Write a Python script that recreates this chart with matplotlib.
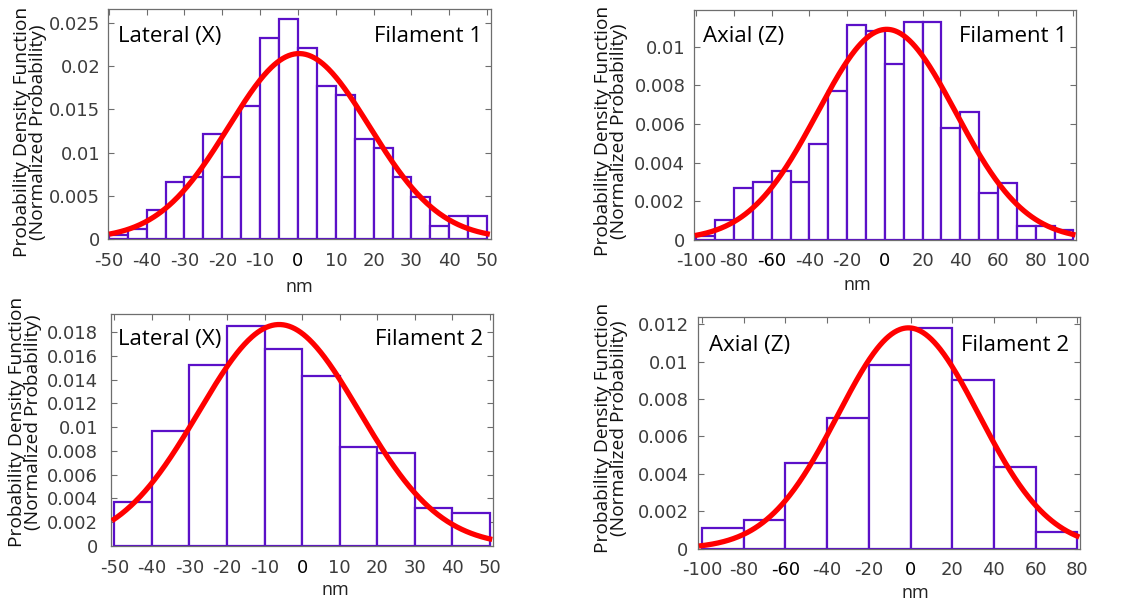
import numpy as np
import matplotlib
matplotlib.use("Agg")
import matplotlib.pyplot as plt

# ---------------- data ----------------
# Panel 1: Lateral (X), Filament 1 (bin width 5 nm)
lat1_edges = [-50, -45, -40, -35, -30, -25, -20, -15, -10, -5, 0, 5, 10, 15, 20, 25, 30, 35, 40, 45, 50]
lat1_pdf = [0.0005, 0.0011, 0.0033, 0.0066, 0.0072, 0.0122, 0.0072, 0.0154, 0.0232, 0.0255,
            0.0221, 0.0177, 0.0166, 0.0116, 0.0105, 0.0072, 0.0049, 0.0015, 0.0027, 0.0027]
lat1_mu, lat1_sigma = 0.3, 18.6

# Panel 2: Axial (Z), Filament 1 (bin width 10 nm)
ax1_edges = [-100, -90, -80, -70, -60, -50, -40, -30, -20, -10, 0, 10, 20, 30, 40, 50, 60, 70, 80, 90, 100]
ax1_pdf = [0.0002, 0.00103, 0.0027, 0.0030, 0.00355, 0.0030, 0.00495, 0.0077, 0.0111, 0.0108,
           0.0091, 0.0113, 0.0113, 0.0058, 0.0066, 0.00245, 0.00295, 0.00074, 0.00074, 0.0005]
ax1_mu, ax1_sigma = 1.0, 36.6

# Panel 3: Lateral (X), Filament 2 (bin width 10 nm)
lat2_edges = [-50, -40, -30, -20, -10, 0, 10, 20, 30, 40, 50]
lat2_pdf = [0.00373, 0.0097, 0.0152, 0.0185, 0.0166, 0.01427, 0.00833, 0.00785, 0.00322, 0.0028]
lat2_mu, lat2_sigma = -6.1, 21.4

# Panel 4: Axial (Z), Filament 2 (bin width 20 nm)
ax2_edges = [-100, -80, -60, -40, -20, 0, 20, 40, 60, 80]
ax2_pdf = [0.0011, 0.00155, 0.0046, 0.0070, 0.00984, 0.0118, 0.00899, 0.00439, 0.00091]
ax2_mu, ax2_sigma = -1.0, 33.8

y_label = "Probability Density Function\n(Normalized Probability)"
x_label = "nm"

BAR_COLOR = "#5b10c8"
FIT_COLOR = "#ff0000"
TICK_COLOR = "#3c3c3c"
SPINE_COLOR = "#6e6e6e"


def fmt(v):
    return ("%.4f" % v).rstrip("0").rstrip(".")


def panel(ax, edges, pdf, mu, sigma, xlim, xticks, ylim, yticks, left_text, right_text,
          text_x, text_y, ylab_xy, xlab_xy, ypad):
    edges = np.asarray(edges, float)
    pdf = np.asarray(pdf, float)
    widths = np.diff(edges)
    ax.bar(edges[:-1], pdf, width=widths, align="edge", facecolor="white",
           edgecolor=BAR_COLOR, linewidth=1.6, zorder=2)
    xs = np.linspace(xlim[0] + 0.3, xlim[1] - 0.3, 400)
    ys = np.exp(-0.5 * ((xs - mu) / sigma) ** 2) / (sigma * np.sqrt(2 * np.pi))
    ax.plot(xs, ys, color=FIT_COLOR, linewidth=3.8, solid_capstyle="butt", zorder=3)
    ax.set_xlim(*xlim)
    ax.set_ylim(*ylim)
    ax.set_xticks(xticks)
    ax.set_xticklabels([fmt(v) for v in xticks])
    ax.set_yticks(yticks)
    ax.set_yticklabels([fmt(v) for v in yticks])
    ax.tick_params(direction="in", length=4, width=0.8, top=True, right=True,
                   labelsize=13, colors=SPINE_COLOR, labelcolor=TICK_COLOR)
    ax.tick_params(axis="x", pad=9)
    ax.tick_params(axis="y", pad=ypad)
    for lbl in ax.get_xticklabels():
        lbl.set_fontfamily("DejaVu Sans")
        if lbl.get_text() in ("0", "-60"):
            lbl.set_color("black")
    for lbl in ax.get_yticklabels():
        lbl.set_fontfamily("DejaVu Sans")
    for sp in ax.spines.values():
        sp.set_color(SPINE_COLOR)
        sp.set_linewidth(0.9)
    ax.set_xlabel(x_label, fontsize=13, family="Open Sans", color="#222222")
    ax.xaxis.label.set_va("baseline")
    ax.xaxis.set_label_coords(*xlab_xy)
    ax.set_ylabel(y_label, fontsize=13.8, family="Open Sans", color="#111111",
                  linespacing=0.85)
    ax.yaxis.set_label_coords(*ylab_xy)
    ax.text(text_x[0], text_y, left_text, transform=ax.transAxes, fontsize=16,
            family="Open Sans", ha="left", va="baseline", color="black", zorder=4)
    ax.text(text_x[1], text_y, right_text, transform=ax.transAxes, fontsize=16,
            family="Open Sans", ha="right", va="baseline", color="black", zorder=4)


fig = plt.figure(figsize=(11.31, 6.06), dpi=100)
fig.patch.set_facecolor("white")

ax1 = fig.add_axes([0.0955, 0.6056, 0.3386, 0.3795])
ax2 = fig.add_axes([0.6139, 0.6040, 0.3375, 0.3795])
ax3 = fig.add_axes([0.0979, 0.0990, 0.3383, 0.3823])
ax4 = fig.add_axes([0.6174, 0.0946, 0.3375, 0.3828])

panel(ax1, lat1_edges, lat1_pdf, lat1_mu, lat1_sigma, (-50.2, 51), list(range(-50, 51, 10)),
      (0, 0.0266), [0, 0.005, 0.01, 0.015, 0.02, 0.025], "Lateral (X)", "Filament 1",
      (0.027, 0.976), 0.857, (-0.16, 0.465), (0.5, -0.230), 5.5)
panel(ax2, ax1_edges, ax1_pdf, ax1_mu, ax1_sigma, (-101, 101.4), list(range(-100, 101, 20)),
      (0, 0.0119), [0, 0.002, 0.004, 0.006, 0.008, 0.01], "Axial (Z)", "Filament 1",
      (0.024, 0.976), 0.862, (-0.175, 0.474), (0.427, -0.217), 6.5)
panel(ax3, lat2_edges, lat2_pdf, lat2_mu, lat2_sigma, (-51, 51), list(range(-50, 51, 10)),
      (0, 0.0195), [0, 0.002, 0.004, 0.006, 0.008, 0.01, 0.012, 0.014, 0.016, 0.018],
      "Lateral (X)", "Filament 2",
      (0.019, 0.974), 0.868, (-0.18, 0.534), (0.586, -0.211), 9)
panel(ax4, ax2_edges, ax2_pdf, ax2_mu, ax2_sigma, (-101.8, 81.3), list(range(-100, 81, 20)),
      (0, 0.0124), [0, 0.002, 0.004, 0.006, 0.008, 0.01, 0.012], "Axial (Z)", "Filament 2",
      (0.029, 0.971), 0.853, (-0.184, 0.52), (0.568, -0.213), 7)

fig.savefig("out.png", dpi=100, facecolor="white")
